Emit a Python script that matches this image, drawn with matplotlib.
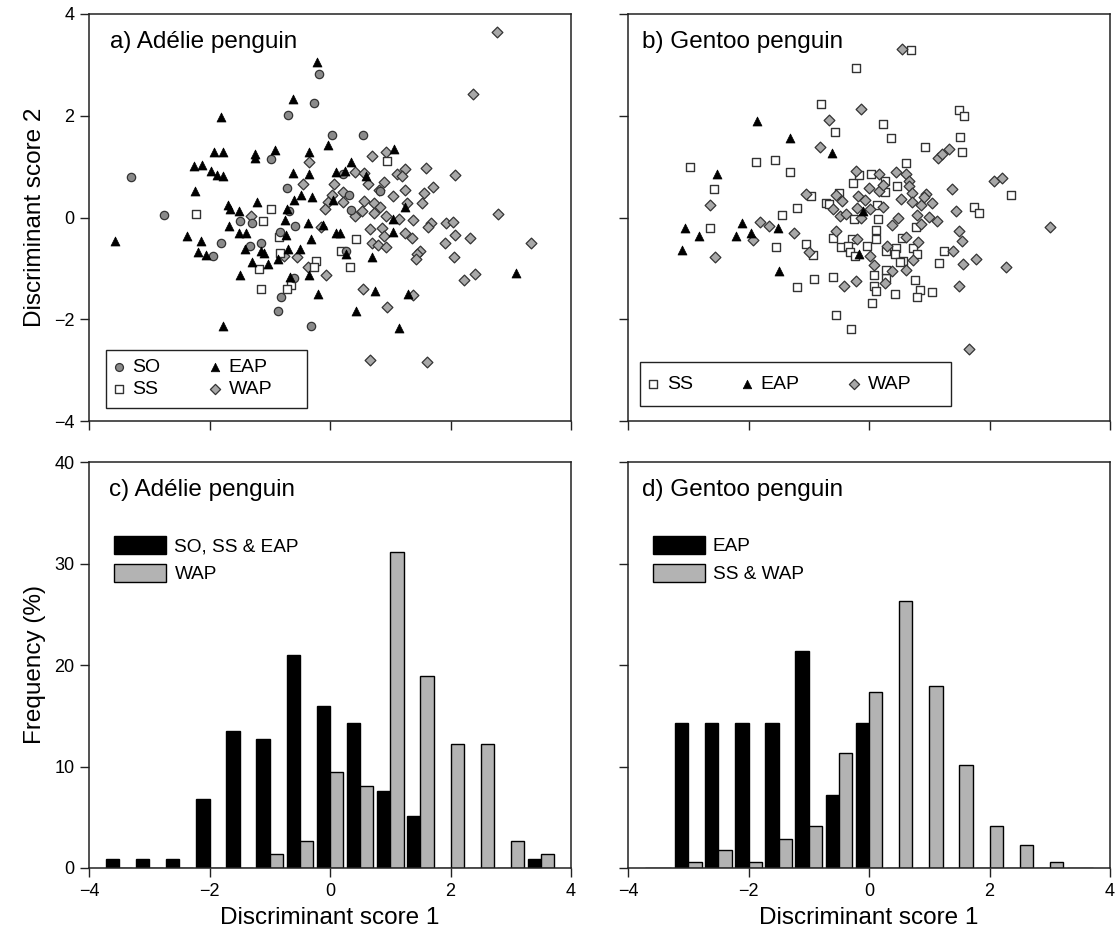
import numpy as np
import matplotlib
matplotlib.use("Agg")
import matplotlib.pyplot as plt
from matplotlib.patches import Rectangle

plt.rcParams['font.family'] = ['Liberation Sans', 'DejaVu Sans']

# ---- a) Adelie scatter (discriminant scores) ----
ad_so_x = [-3.30, -2.75, -0.19, -0.27, -0.69, 0.04, 0.55, -0.98, -0.72, -0.68, -1.50, -1.30, -0.58, -1.81,
           -1.15, -1.33, -1.94, -0.83, 0.22, 0.32, 0.35, 0.83, 0.27, -0.60, -0.81, -0.86, -0.31]
ad_so_y = [0.79, 0.05, 2.83, 2.26, 2.02, 1.63, 1.62, 1.15, 0.58, 0.12, -0.07, -0.10, -0.17, -0.50,
           -0.51, -0.56, -0.76, -0.29, 0.85, 0.45, 0.14, 0.52, -0.66, -1.19, -1.57, -1.84, -2.13]

ad_ss_x = [-2.23, -0.98, -1.11, -0.85, -0.83, 0.94, 0.43, 0.18, -0.23, -0.27, 0.34, -1.18, -1.14, -0.65, -0.71]
ad_ss_y = [0.07, 0.16, -0.07, -0.38, -0.69, 1.12, -0.42, -0.66, -0.85, -0.98, -0.98, -1.02, -1.41, -1.32, -1.40]

ad_eap_x = [-0.22, -0.62, -1.81, -1.92, -1.78, -2.25, -2.12, -1.98, -1.87, -1.78, -2.24, -1.25, -1.24, -0.91,
            -0.35, -0.04, 1.07, 0.35, -0.61, -0.35, 0.10, 0.25, 0.60, -0.59, -0.48, -0.30, 0.05, -1.69,
            -1.66, -1.51, -1.21, -0.72, -1.68, -1.51, -1.39, -0.75, -0.37, -0.11, 0.10, 0.17, 1.25, 1.04,
            1.05, -2.38, -2.14, -2.19, -2.06, -3.57, -1.41, -1.15, -1.09, -0.69, -0.49, -0.32, -0.73, 0.27,
            0.70, -1.30, -1.03, -0.87, -1.49, -0.66, -0.35, -0.20, 0.74, 1.30, 3.08, 0.43, -1.78, 1.14]
ad_eap_y = [3.06, 2.32, 1.97, 1.28, 1.28, 1.01, 1.04, 0.92, 0.83, 0.81, 0.52, 1.24, 1.16, 1.32,
            1.29, 1.42, 1.34, 1.10, 0.88, 0.85, 0.89, 0.91, 0.82, 0.35, 0.44, 0.41, 0.34, 0.25,
            0.17, 0.12, 0.31, 0.16, -0.16, -0.31, -0.31, -0.05, -0.11, -0.15, -0.30, -0.30, 0.21, -0.28,
            -0.02, -0.36, -0.46, -0.68, -0.74, -0.46, -0.62, -0.66, -0.69, -0.61, -0.62, -0.43, -0.35, -0.72,
            -0.78, -0.88, -0.92, -0.81, -1.14, -1.17, -1.14, -1.51, -1.45, -1.50, -1.10, -1.83, -2.13, -2.17]

ad_wap_x = [2.77, 2.38, 0.69, 0.93, -0.35, 0.42, 0.57, 1.60, 2.07, 1.12, 1.25, 1.20, -0.45, 0.06, 0.63,
            0.89, 0.82, 0.22, 0.04, 1.04, 1.24, 1.56, 1.71, -0.03, -0.08, 0.22, 0.57, 0.73, 1.27, 1.53,
            0.53, 0.73, 0.83, 0.41, 0.93, 1.14, 1.37, 1.67, 1.62, 1.92, 2.04, 2.79, 3.34, 2.32, 2.08,
            1.91, 2.05, 0.66, 0.86, 0.90, 0.70, 0.80, 0.93, 1.24, 1.36, 1.50, 1.45, 1.42, 2.40, 2.23,
            -0.06, 0.54, 1.38, 0.95, -1.31, -0.54, -0.76, -0.37, -0.15, 0.66, 1.61]
ad_wap_y = [3.65, 2.43, 1.20, 1.29, 1.10, 0.89, 0.87, 0.98, 0.84, 0.85, 0.96, 0.82, 0.66, 0.66, 0.66,
            0.70, 0.55, 0.50, 0.45, 0.43, 0.55, 0.48, 0.60, 0.30, 0.16, 0.30, 0.32, 0.29, 0.29, 0.29,
            0.12, 0.08, 0.20, 0.02, 0.02, -0.02, -0.05, -0.10, -0.18, -0.10, -0.08, 0.07, -0.50, -0.40, -0.35,
            -0.51, -0.77, -0.22, -0.21, -0.37, -0.50, -0.55, -0.58, -0.30, -0.41, -0.65, -0.71, -0.82, -1.11, -1.23,
            -1.13, -1.41, -1.52, -1.75, 0.02, -0.77, -0.75, -0.98, -0.18, -2.81, -2.85]

# ---- b) Gentoo scatter ----
ge_ss_x = [0.70, -0.21, -0.79, -0.57, 0.23, 0.37, 1.49, 1.58, 1.51, 1.55, 0.93, 0.62, -2.97, -1.87, -1.56,
           -1.31, -2.58, -2.64, 2.36, 1.75, 1.83, -1.19, -1.45, -0.96, -0.27, 0.03, -0.17, 0.27, 0.47, 0.27,
           -0.71, -0.67, -0.49, 0.14, 0.15, -0.25, 0.11, 0.12, -0.59, -0.28, -0.47, -0.35, -0.32, -0.03, -0.23,
           -1.54, -1.04, -0.93, 0.45, 0.54, 0.78, 0.73, 0.28, 0.43, 0.80, 0.57, 0.52, 1.25, 1.16, 0.77,
           0.84, 0.80, 1.05, 0.43, 0.29, 0.28, 0.09, 0.08, 0.12, 0.05, -0.59, -0.91, -1.19, -0.55, -0.30]
ge_ss_y = [3.29, 2.94, 2.23, 1.69, 1.84, 1.57, 2.11, 1.99, 1.59, 1.29, 1.38, 1.08, 1.00, 1.09, 1.13,
           0.89, 0.56, -0.20, 0.45, 0.20, 0.08, 0.19, 0.05, 0.43, 0.67, 0.85, 0.84, 0.71, 0.62, 0.51,
           0.28, 0.26, 0.49, 0.24, -0.03, -0.03, -0.24, -0.42, -0.40, -0.43, -0.58, -0.56, -0.68, -0.56, -0.75,
           -0.58, -0.52, -0.73, -0.59, -0.41, -0.19, -0.59, -0.66, -0.72, -0.71, -0.86, -0.88, -0.66, -0.89, -1.23,
           -1.42, -1.56, -1.46, -1.50, -1.18, -1.04, -1.13, -1.34, -1.44, -1.68, -1.17, -1.21, -1.36, -1.91, -2.20]

ge_eap_x = [-1.86, -1.31, -0.62, -2.53, -3.06, -2.82, -3.10, -2.10, -2.21, -1.96, -1.51, -1.49, -0.10, -0.17]
ge_eap_y = [1.90, 1.57, 1.27, 0.85, -0.20, -0.37, -0.64, -0.11, -0.37, -0.31, -0.20, -1.06, 0.12, -0.71]

ge_wap_x = [0.55, -0.14, -0.66, -0.81, -2.64, -2.55, -1.81, -1.66, -1.92, -1.25, -1.04, -1.00, -0.21, -0.55,
            -0.45, -0.60, -0.48, -0.39, -0.19, -0.07, -0.20, -0.14, 0.02, 0.23, 0.00, 0.17, 0.17, 0.24,
            0.45, 0.62, 0.66, 0.67, 0.72, 0.53, 0.71, 0.86, 0.95, 0.92, 1.05, 0.80, 0.86, 1.00, 1.13,
            1.37, 1.44, 1.14, 1.21, 1.32, 2.07, 2.20, 3.00, 2.28, 1.78, 1.56, 1.49, 1.55, 1.39, 1.49,
            0.48, 0.38, 0.62, 0.81, 0.30, 0.73, 0.62, 0.39, 0.27, 0.09, 0.02, -0.20, -0.54, -0.21, -0.42, 1.66]
ge_wap_y = [3.32, 2.14, 1.91, 1.39, 0.24, -0.78, -0.09, -0.17, -0.45, -0.30, 0.46, -0.68, 0.92, 0.45,
            0.32, 0.16, 0.03, 0.07, 0.43, 0.35, 0.18, -0.01, 0.17, 0.20, 0.58, 0.52, 0.85, 0.63,
            0.89, 0.85, 0.71, 0.61, 0.48, 0.37, 0.31, 0.24, 0.47, 0.40, 0.28, 0.05, -0.12, 0.01, -0.06,
            0.57, 0.13, 1.17, 1.24, 1.35, 0.71, 0.77, -0.19, -0.97, -0.82, -0.91, -0.27, -0.47, -0.66, -1.34,
            0.00, -0.14, -0.39, -0.48, -0.57, -0.84, -1.04, -1.05, -1.28, -0.94, -0.76, -0.42, -0.27, -1.25, -1.34, -2.59]

# ---- c) / d) frequency histograms (bin centres, %) ----
bins = [-3.5, -3.0, -2.5, -2.0, -1.5, -1.0, -0.5, 0.0, 0.5, 1.0, 1.5, 2.0, 2.5, 3.0, 3.5]
ad_east = [0.85, 0.85, 0.85, 6.8, 13.5, 12.7, 21.0, 16.0, 14.3, 7.6, 5.1, 0, 0, 0, 0.85]
ad_west = [0, 0, 0, 0, 0, 1.35, 2.7, 9.46, 8.1, 31.1, 18.9, 12.2, 12.2, 2.7, 1.35]
ge_east = [0, 14.3, 14.3, 14.3, 14.3, 21.4, 7.15, 14.3, 0, 0, 0, 0, 0, 0, 0]
ge_west = [0, 0.58, 1.75, 0.58, 2.9, 4.1, 11.3, 17.3, 26.3, 17.9, 10.1, 4.1, 2.3, 0.58, 0]

W, H = 1117, 939
fig = plt.figure(figsize=(W / 100, H / 100), dpi=100)


def px_axes(l, t, r, b):
    return fig.add_axes([l / W, 1 - b / H, (r - l) / W, (b - t) / H])


ax_a = px_axes(89, 14, 571, 421)
ax_b = px_axes(628, 14, 1110, 421)
ax_c = px_axes(89, 462, 571, 868)
ax_d = px_axes(628, 462, 1110, 868)

edge = '#333333'
so_kw = dict(marker='o', s=36, facecolor='#8a8a8a', edgecolor=edge, linewidths=0.9)
ss_kw = dict(marker='s', s=30, facecolor='white', edgecolor=edge, linewidths=1.0)
eap_kw = dict(marker='^', s=42, facecolor='black', edgecolor='black', linewidths=0.5)
wap_kw = dict(marker='D', s=30, facecolor='#a8a8a8', edgecolor=edge, linewidths=0.9)

ax_a.scatter(ad_wap_x, ad_wap_y, label='WAP', zorder=3, **wap_kw)
ax_a.scatter(ad_ss_x, ad_ss_y, label='SS', zorder=4, **ss_kw)
ax_a.scatter(ad_so_x, ad_so_y, label='SO', zorder=5, **so_kw)
ax_a.scatter(ad_eap_x, ad_eap_y, label='EAP', zorder=6, **eap_kw)

ax_b.scatter(ge_ss_x, ge_ss_y, label='SS', zorder=3, **ss_kw)
ax_b.scatter(ge_wap_x, ge_wap_y, label='WAP', zorder=4, **wap_kw)
ax_b.scatter(ge_eap_x, ge_eap_y, label='EAP', zorder=5, **eap_kw)


def boxed_legend(ax, order, ncol, anchor, box):
    h, l = ax.get_legend_handles_labels()
    hs = [h[l.index(k)] for k in order]
    ax.add_patch(Rectangle(box[:2], box[2], box[3], transform=ax.transAxes, facecolor='white',
                           edgecolor='#222222', linewidth=1.0, zorder=7))
    leg = ax.legend(hs, order, ncol=ncol, loc='center left', bbox_to_anchor=anchor,
                    borderaxespad=0, borderpad=0, frameon=False, fontsize=14,
                    handletextpad=0.4, columnspacing=2.5, handlelength=0.6,
                    labelspacing=0.22, markerscale=0.95)
    leg.set_zorder(8)


boxed_legend(ax_a, ['SO', 'SS', 'EAP', 'WAP'], 2, (0.050, 0.1044), (0.0353, 0.032, 0.417, 0.1425))
boxed_legend(ax_b, ['SS', 'EAP', 'WAP'], 3, (0.040, 0.0909), (0.0249, 0.0369, 0.645, 0.108))

# histograms: dark bar left of the bin centre, grey bar right of it
bw = 0.22
bins = np.array(bins)
ax_c.bar(bins - bw / 2, ad_east, width=bw, color='black', edgecolor='black', linewidth=1, label='SO, SS & EAP')
ax_c.bar(bins + bw / 2, ad_west, width=bw, color='#b3b3b3', edgecolor='black', linewidth=1, label='WAP')
ax_d.bar(bins - bw / 2, ge_east, width=bw, color='black', edgecolor='black', linewidth=1, label='EAP')
ax_d.bar(bins + bw / 2, ge_west, width=bw, color='#b3b3b3', edgecolor='black', linewidth=1, label='SS & WAP')

for ax, x0 in ((ax_c, 0.0525), (ax_d, 0.0512)):
    ax.legend(loc='upper left', bbox_to_anchor=(x0, 0.818), frameon=False, fontsize=13.7,
              handlelength=2.74, handleheight=1.1, handletextpad=0.42, labelspacing=0.43,
              borderpad=0, borderaxespad=0)

for ax in (ax_a, ax_b):
    ax.set_xlim(-4, 4)
    ax.set_ylim(-4, 4)
    ax.set_yticks([-4, -2, 0, 2, 4])
    ax.tick_params(labelbottom=False)
for ax in (ax_c, ax_d):
    ax.set_xlim(-4, 4)
    ax.set_ylim(0, 40)
    ax.set_yticks([0, 10, 20, 30, 40])
    ax.set_xlabel('Discriminant score 1', fontsize=17.5, labelpad=5)
for ax in (ax_a, ax_b, ax_c, ax_d):
    ax.set_xticks([-4, -2, 0, 2, 4])
    ax.tick_params(direction='out', length=6.5, width=1, labelsize=13, color='#222222', pad=4)
    for sp in ax.spines.values():
        sp.set_linewidth(1.1)
        sp.set_color('#222222')
for ax in (ax_b, ax_d):
    ax.tick_params(labelleft=False)

ax_a.set_ylabel('Discriminant score 2', fontsize=17.5, labelpad=6)
ax_c.set_ylabel('Frequency (%)', fontsize=17.5, labelpad=6)

panel_txt = [(ax_a, 0.044, 'a) Adélie penguin'), (ax_b, 0.030, 'b) Gentoo penguin'),
             (ax_c, 0.042, 'c) Adélie penguin'), (ax_d, 0.030, 'd) Gentoo penguin')]
for ax, x, t in panel_txt:
    ax.text(x, 0.958, t, transform=ax.transAxes, fontsize=17.5, va='top', ha='left')

fig.savefig('out.png', dpi=100)
